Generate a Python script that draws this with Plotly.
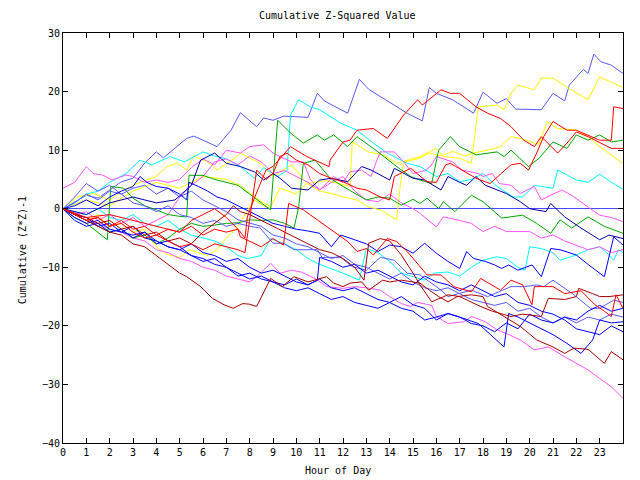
import plotly.graph_objects as go

# ---------------- data (hour, cumulative value) ----------------
mb_top_h = [0,0.5,1,1.5,2,2.5,3,3.5,4,4.3,5.3,5.6,6,6.6,7.2,7.6,8.3,8.6,9,9.45,10.5,10.9,11.2,12.2,12.7,13.1,14.75,15.4,15.7,16,16.7,17.6,18,18.6,19,19.4,20.5,21,21.5,21.7,22.3,22.5,22.75,23.05,23.5,24]
mb_top_v = [0,1.2,2.3,1.8,3.2,4.6,5.2,7.8,9.7,8.7,12,12.4,11.7,10.6,13.4,16.4,14,15.5,15.1,15.8,15.6,19.7,18.4,16.3,22.1,20.4,16.3,15,20.7,19.7,18.6,16.3,19.9,18,18.8,17,16.9,19.7,18.4,21.1,23.8,23.1,26.4,25.1,24.5,23.1]

y_top_h = [0,0.6,1.3,2,2.6,3.3,4,4.45,4.9,5.3,5.6,6.2,6.6,7.45,7.6,8.45,9,9.8,10.45,11.3,12.3,12.4,13.1,13.7,14.3,15.3,16,16.3,17,17.5,17.8,18.6,18.9,19.2,19.5,20.2,20.5,21,21.7,22.5,23,24]
y_top_v = [0,2,2.6,1.5,3.2,4.5,5.5,7.2,7.8,6.6,9,8,6.6,8.9,9.5,7.75,5.5,7.5,4.3,4.8,3.8,11.4,9.7,9.2,7.75,8.9,10.3,8.9,8.6,7.75,17.4,17.7,16.9,19.7,21.1,20.3,22.3,22.3,20.5,18.6,22.5,20.7]

y_mid_h = [0,1,2,3,4,5,6,7,7.6,8.2,8.9,9.3,10,10.45,11,11.5,12,12.6,13.1,13.6,14.1,14.3,14.45,14.6,15.2,15.7,16.2,16.7,17.2,17.6,18.2,18.75,19.2,19.6,20.2,20.4,20.75,21.2,22,22.5,23,24]
y_mid_v = [0,1.5,0.5,3,4.5,3.5,5.5,5,4,2,0.3,3.5,2.5,4.3,3,2.6,2,1.5,0.3,-0.2,-1.4,-1.9,3.8,8,8.5,9.5,9,9.8,9,9.5,10,10.6,12.3,12,11.2,11,14.9,13.7,13.4,12.3,10.6,7.75]

y_low_h = [0,0.5,1,1.5,2,2.5,3,3.5,4,4.5,5,5.4,5.8,6.2,6.6,7,7.4,7.8,8.2,8.6,8.9]
y_low_v = [0,-1,-2,-1,-3,-2.5,-4,-3.5,-6.5,-7.9,-8.3,-7,-7.5,-8,-7,-5,-3.5,-1,1.5,0.5,0]

r_high_h = [0,1,2,3,4,5,5.5,6,6.5,7,7.5,7.8,7.9,8.2,8.7,9,9.75,10.45,11.4,11.45,12,12.3,12.6,13.3,13.9,14.6,15.2,15.4,16.2,16.6,17,17.7,18.2,18.75,19.2,19.75,20.2,20.5,21.2,21.6,22,22.5,23.5,24]
r_high_v = [0,-1.5,-1,-2,-3,-4,-2,-1,0,-1.5,-3.5,-5,-1.4,1.8,6.6,7.2,10.6,8.9,7.2,8.3,11.4,11.7,13.4,13.7,12,16,18.6,17.7,20.3,19.7,19.7,17.4,16.3,15.4,14,11.7,10.6,12.3,9.5,11.2,13.1,12.3,10.3,10.3]

r_jump_h = [0,0.5,1,1.5,2,2.5,3,3.5,4,4.5,5,5.5,6,6.5,7,7.5,7.8,8.1,8.3,8.7,9,9.3,9.6,10,10.5,11,11.5,12,12.6,13,13.6,14,14.2,14.9,15.3,15.6,16,16.4,16.6,17.1,17.7,18.3,19.2,19.6,19.95,20.3,20.6,21,21.6,22,22.5,23,23.5,23.6,24]
r_jump_v = [0,-1,-2,-1.5,-3,-2.5,-4,-5,-4.5,-5.5,-6.5,-6,-7,-6,-6.5,-7,-7.5,1.5,6.6,5,6,8.9,9.5,8.3,7.5,6,5.2,4.6,3.5,3.2,2,1.5,5.5,6.9,5.5,4.6,4.5,7.5,7.75,6.6,5.2,4.3,7.5,7.75,6.6,9.5,12.3,14.9,13.4,13.4,12.5,11.7,11.7,17.4,17.1]

g_high_h = [0,0.5,1,1.5,1.9,2.05,2.6,3,3.5,4,4.5,5,5.3,5.4,6,6.5,7,7.5,8,8.5,8.9,9.2,9.75,10.3,10.9,11.2,11.6,12.2,12.6,13.3,13.75,14.4,14.9,15.3,15.8,16.1,16.3,16.6,17,17.7,18.6,18.9,19.2,19.95,20.4,21,21.6,22,22.5,23,23.5,24]
g_high_v = [0,-1.5,-2.5,-4,-5.3,3.8,3.5,1.8,0.5,-0.2,-1,-1.3,-1.4,5.7,5.7,5,4.5,4,2.5,1,-0.2,15.1,12.9,11.2,12.6,11.7,12.6,10.6,12.3,10.3,8.9,6.9,5.5,4.9,4.3,10,10.9,12.3,10.6,9.2,9.7,8.9,10,7.2,8.6,11.4,10.3,12.6,11.7,12.6,11.4,11.7]

g_mid_h = [0,0.5,1,1.5,2,2.5,3,3.5,4,4.5,5,5.5,6,6.5,7,7.5,8,8.5,9,9.5,9.9,10.1,10.3,10.8,11.45,12,12.5,13,13.5,14,14.5,15,15.3,15.6,16.1,16.3,16.8,17.5,18,18.8,19.7,20.3,20.9,21.3,21.8,22.5,23.2,24]
g_mid_v = [0,-1,-2,-3,-4,-3.5,-5,-4.5,-6,-5,-3.5,-2.5,-3,-2.8,-2.5,-2.4,-1.9,-2,-1.9,-2.5,-3.3,0.3,7.75,8.3,5.2,3.8,2.6,1.5,2,1.8,0.6,1.6,0.9,1.8,0,1.2,-0.5,2.3,1.2,-1.6,-1.1,-2.5,-4.2,-1.9,-3.3,-1.4,-3,-4.2]

c_high_h = [0,0.5,1,1.5,2,2.7,3.3,3.8,4.6,5.2,6,6.5,7,7.6,8.2,8.6,9.2,9.6,9.75,10.1,10.6,11,11.9,12.6,13.3,13.9,14.75,15.3,16,16.5,17,17.5,18,18.6,19.3,19.7,20.2,21,21.2,22,22.5,23,23.5,24]
c_high_v = [0,1,2.5,3,4.5,6,8.3,7.5,8.9,8,9.7,9,8.5,7.2,5.2,7,5.5,6.5,16,18.6,17.4,16.9,14.6,13.4,11.2,9.5,7.75,7.2,5.5,6,4.6,5,6,3.8,2,2,4,3.5,6.6,4.9,4.5,5.9,4.5,3.3]

c_low_h = [0,0.5,1,1.5,2,2.5,3,3.5,4,4.5,5,5.5,6,6.5,7,7.5,7.9,8.5,8.9,9.5,10,10.5,11,11.7,12,12.7,13,13.5,14,14.5,15.5,15.9,16.5,17,17.5,18,18.6,19,19.5,19.8,20,20.5,21,21.3,22,22.5,23,23.3,23.6,23.8,24]
c_low_v = [0,-0.5,-1,0,-1.5,-2,-1,-2.5,-3,-2,-3.5,-4.5,-5,-5.5,-6.5,-8,-8.5,-8,-5.1,-6,-7,-8.5,-9.5,-10.5,-11,-12.2,-6.8,-7.5,-9,-11,-12.2,-11,-10.8,-11.5,-10,-8.8,-8.2,-8.5,-10,-10.5,-6.5,-6.8,-7.5,-8.8,-7.9,-7,-6.5,-7.5,-8.8,-7,-7.5]

m_a_h = [0,0.5,1,1.3,1.7,2.1,2.7,3,3.5,4,4.5,5,5.5,6,6.5,7,7.6,8,8.6,9,9.3,9.8,10.3,10.6,11,11.6,12,12.3,12.8,13.2,13.4,13.6,14.2,14.6,15,15.5,15.75,16,16.7,17.1,17.8,18,18.4,18.7,19.2,19.6,20.2,20.5,21,21.4,21.9,22.5,23,23.5,24]
m_a_v = [3.5,4.5,7.2,6,5.75,4.9,5.75,5.5,4.5,4.9,4.5,5,7,8.5,7.5,10,9.5,10.6,10.9,9.5,8.9,8,8,5,3.2,5.5,4.5,6.3,6.6,5.5,7.75,9.7,9.7,8,6,6.5,7.2,8.9,8,6.6,6,5.5,6,4.3,4,2.6,3.8,1.5,2.5,3.2,2,0.3,-1.1,-1.5,-2.2]

m_b_h = [0,0.5,1,1.5,2,2.5,3,3.5,4,4.5,5,5.5,6,6.5,7,7.5,8,8.5,9,9.5,10,10.5,11,11.5,12,12.5,13,13.5,14,14.5,15,15.3,16,16.3,17,17.5,18,18.5,19,20,20.5,21,21.5,22.5,23,23.5,24]
m_b_v = [0,-1,-0.5,-2,-1,-2.5,-1.5,-3,-2,-1,2,4,5.5,8,8.5,7.5,9,8,6,6.5,5.5,4.5,3.2,4.5,5.5,3,1.5,1.2,2.5,1,0,-0.8,-3.1,-1.4,-2,-2.5,-3.9,-3,-3.9,-3.9,-5,-4.5,-5.5,-7,-6.5,-7.5,-7]

m_low_h = [0,0.5,1,1.5,2,2.5,3,3.5,4,4.5,5,5.5,6,6.5,7,7.5,8,8.3,8.7,8.9,9.3,9.8,10.2,10.8,11.3,12,12.5,13,13.6,14,14.5,14.9,15.2,15.8,16,16.5,17.2,17.5,18.1,18.6,19,19.6,20.2,20.8,21.6,22.5,23,23.5,24]
m_low_v = [0,-0.8,-2,-2.5,-3.5,-4,-5,-5.5,-7,-7.5,-8.5,-9,-10,-10.5,-11.5,-12,-12.5,-11.6,-10,-9.3,-11,-10.5,-10.8,-11.9,-13.3,-13.6,-13.3,-13.5,-13.9,-15,-16.2,-16.7,-16,-16.5,-18.4,-19.6,-19.3,-18.4,-19.3,-20.7,-21.3,-22.4,-24.1,-23.6,-25.5,-27.5,-29,-30.4,-32.4]

db_h = [0,1,2,3,4,4.8,5.5,5.9,6.5,7,7.6,8.2,8.6,9,9.3,9.8,10.5,11,11.5,12.2,12.8,13.2,14,14.2,15,15.5,16.2,16.5,17,17.3,17.7,18.1,19,19.6,20,20.7,20.9,21.5,22.2,23,23.4,24]
db_v = [0,-1,1,2,1,1.5,4,8.3,9.5,7.75,7.2,6.3,4.9,6,5.2,3.5,3.2,4.9,5.2,4.6,7.2,6.6,4.9,6.9,5.2,4.9,3.2,5.5,4.5,4,5.5,4,2.6,1.2,0,-0.5,0.9,-1.4,-3.3,-5.3,-4.5,-5.1]

b1_h = [0,0.5,1,1.5,2,2.5,3,3.3,3.6,4,4.5,5,5.3,5.4,5.8,6.2,6.6,7,7.5,8,8.5,9,9.5,10,10.5,11,11.5,11.9,12.5,13,13.5,14,14.5,15,15.5,16,16.5,17,17.3,17.6,18.1,18.5,18.8,19.1,19.5,20.1,20.5,20.9,21.3,22,22.5,23.2,23.6,24]
b1_v = [0,0.5,1.5,0.5,2,3,3.8,5.5,4.5,3.8,3.5,2.5,1.5,4.5,3.8,3,2,1.5,0.5,-0.5,-1.5,-2.5,-3,-3.5,-3.8,-4.2,-6.5,-4.5,-5.3,-6,-7.3,-6.2,-6.5,-7.6,-5.9,-7.6,-9,-10.2,-7.3,-8.5,-9,-9.6,-10.2,-9.6,-10.5,-9.6,-11.6,-6.8,-7,-7.9,-9.5,-11.6,-4.8,-6.2]

b2_h = [0,0.5,1,1.5,2,2.5,3,3.5,4,4.5,5,5.5,6,6.5,7,7.5,8,8.5,9,9.5,10,10.5,11,11.5,12,12.5,13,13.5,14,14.5,15,15.5,16,16.5,17,17.5,18,18.5,19,19.5,20,20.5,21,21.5,22,22.5,23,23.5,24]
b2_v = [0,-1.5,-2.5,-2,-3.5,-4,-3,-5,-5.5,-6.5,-7,-6,-7.5,-8,-9,-8.5,-10,-11,-10.5,-11.5,-12.5,-13,-12,-13.5,-14,-13.5,-14.5,-15.5,-16,-15,-16.4,-17,-19,-17.9,-18.5,-19.6,-20,-21,-19.5,-20.5,-18,-19,-19.5,-18.5,-19,-17.5,-16.5,-17.5,-17]

b3_h = [0,0.5,1,1.5,2,2.5,3,3.5,4,4.5,5,5.5,6,6.5,7,7.5,8,8.5,9,9.5,10,10.5,11,11.5,12,12.5,13,13.5,14,14.5,15,15.5,16,16.5,17,17.8,18.9,19.1,19.5,20,20.5,21,21.6,22.2,22.7,23,23.5,24]
b3_v = [0,-2,-3,-2.5,-4,-3.5,-5,-4,-6,-5.5,-6.5,-8,-9,-8.5,-10,-11,-12,-11.5,-12.5,-13.5,-14,-13.5,-14.5,-15.5,-15,-16,-16.5,-17,-16,-17,-17.5,-19,-18.5,-17.9,-18.5,-19.6,-23.6,-17.9,-18.5,-19.5,-20.5,-21.5,-23,-24.7,-22.4,-19,-19.5,-19.3]

b5_h = [0,0.5,1,1.5,2,2.5,3,3.5,4,4.5,5,5.5,6,6.5,7,7.5,8,8.5,9,9.5,10,10.5,10.9,11,11.5,12,12.5,13,13.5,14,14.5,15,15.5,16,16.5,17,17.5,18,18.5,19,19.5,20,20.5,21,21.5,22,22.5,23,23.5,24]
b5_v = [0,-1,-1.5,-3,-2.5,-4,-4.5,-4,-5.5,-6.5,-7,-8,-8.5,-9.5,-10,-11.5,-11,-12,-12.5,-13,-12,-13,-12.2,-8.3,-9,-10,-9.5,-11,-10.5,-11.5,-12.5,-13,-11.5,-12.5,-13,-14,-13,-14,-15,-14.5,-16,-16.5,-17.5,-18,-19,-20.5,-21,-21.5,-20,-21]

mb_low_h = [0,0.5,1,1.5,2,2.5,3,3.5,4,4.5,5,5.5,6,6.5,7,7.5,8,8.45,9,9.45,9.9,10.5,10.9,11.1,11.9,12.4,13,13.6,14.2,14.75,15.3,16.2,16.5,17.5,18.2,19.2,19.8,20.3,20.6,21,21.9,22.6,23,23.6,24]
mb_low_v = [0,1,2.5,1.5,3,2.5,1,0.5,-0.5,0.5,-1,-1.5,-2.5,-2,-3,-2.5,-3,-3.3,-5.9,-5.9,-7,-7,-7,-8.3,-8.3,-9.9,-10.5,-8.3,-8.8,-11,-11.3,-13.9,-15,-13.9,-15,-13.3,-13.3,-13,-13.3,-12.2,-14.7,-17,-17,-15.6,-16]

mb_mid_h = [0,0.5,1,1.5,2,2.5,3,3.5,4,4.5,5,5.5,6,6.5,7,7.5,8,8.5,9,9.5,10,10.5,11,11.5,12,12.5,13,13.5,14,14.5,15,15.5,16,16.5,17,17.5,18,18.5,19,19.5,20,20.5,21,21.5,22,22.5,23,23.5,24]
mb_mid_v = [0,2,4.3,3,4,2.5,3.5,4,2.5,3.5,2,3,1.5,0.5,-0.5,-1.9,-2.5,-3,-4.5,-5,-6,-6.5,-7.5,-8.5,-8,-9.5,-10,-11,-12,-11,-12.5,-13.5,-14,-13.5,-14.5,-15.5,-16,-16.5,-16,-17.5,-17,-18.5,-19.5,-18.5,-19.5,-18.5,-19,-18,-18.5]

r_mid_h = [0,0.5,1,1.5,2,2.5,3,3.5,4,4.5,5,5.5,6,6.5,7,7.5,7.6,8.5,9,9.45,9.67,10.3,10.9,11.75,12.2,12.6,13,13.3,13.9,14.3,14.75,15.6,16.2,16.75,17.5,17.9,18.75,19.2,19.7,20.1,20.2,21,21.5,22.2,22.8,23.2,23.5,23.7,24]
r_mid_v = [0,-1,-2,-1.5,-3,-2,-3.5,-3,-4.5,-3.5,-4,-3,-4.5,-3.5,-4,-3.5,-4.8,-6.5,-5.1,-6.2,0.9,-0.2,-1.9,-4.2,-5.6,-7.3,-6.8,-7.9,-5.1,-5.6,-7.3,-11.3,-11.3,-13.3,-14.2,-11.9,-13.9,-12.2,-13,-16.4,-13.3,-13.3,-14.5,-14,-16.4,-17.5,-18.4,-14.7,-17]

dr_low_h = [0,0.5,1,1.5,2,2.5,3,3.5,4,4.5,5,5.3,5.9,6.4,6.9,7.3,7.7,8,8.3,8.9,9.4,9.9,10.5,11.3,11.6,12,12.3,12.8,13.1,13.7,14,14.5,15,15.3,15.7,16.1,16.5,16.9,17.5,18,18.2,18.75,19.6,20.3,21,21.5,21.9,22.5,23.2,23.5,24]
dr_low_v = [0,-1,-2,-3,-4,-4.5,-6,-6.5,-8,-9.6,-11,-11.6,-13.3,-15.3,-16.4,-17,-16.2,-16.3,-16.7,-11.9,-13.3,-11.6,-12.5,-11.6,-12.7,-13.3,-12.7,-12.5,-13.9,-12.2,-12.5,-12.2,-12.5,-12.7,-13.9,-15,-15.9,-15,-14.7,-15,-16.7,-18,-20.1,-22.4,-23.6,-24.7,-23.8,-24,-26.4,-24.4,-25.8]

dr_mid_h = [0,0.5,1,1.5,2,2.5,3,3.5,4,4.5,5,5.5,6,6.5,7,7.3,7.6,8,8.5,9,9.5,10,10.5,11,11.5,12,12.5,12.9,13.1,13.6,14,14.5,15,15.3,15.8,16.5,17,17.9,18.4,19.2,19.7,20.5,20.8,21.5,22,22.1,22.7,23,23.4,24]
dr_mid_v = [0,-1,-1.5,-2.5,-2,-3.5,-3,-4.5,-4,-5.5,-5,-6,-4,-2.5,-1,0.5,-0.5,-1,-2,-3,-4,-5,-6,-7,-7.5,-8.5,-10,-12.2,-5.9,-5.1,-5.5,-7.9,-11,-13,-15.9,-14.7,-15,-16.7,-17.5,-18.4,-18,-18.4,-15.3,-15.5,-15,-13.6,-14.5,-15,-15,-14.7]

RED, DRED, GREEN = "#ff0000", "#a80000", "#00a800"
BLUE, MBLUE, DBLUE = "#0000ff", "#5a5aff", "#0000a8"
YELLOW, CYAN, MAGENTA = "#ffff00", "#00ffff", "#ff55ff"

series = [
    (mb_top_h, mb_top_v, MBLUE), (y_top_h, y_top_v, YELLOW), (y_mid_h, y_mid_v, YELLOW),
    (y_low_h, y_low_v, YELLOW), (c_high_h, c_high_v, CYAN), (c_low_h, c_low_v, CYAN),
    (m_a_h, m_a_v, MAGENTA), (m_b_h, m_b_v, MAGENTA), (m_low_h, m_low_v, MAGENTA),
    (g_high_h, g_high_v, GREEN), (g_mid_h, g_mid_v, GREEN),
    (mb_low_h, mb_low_v, MBLUE), (mb_mid_h, mb_mid_v, MBLUE),
    (b1_h, b1_v, BLUE), (b2_h, b2_v, BLUE), (b3_h, b3_v, BLUE), (b5_h, b5_v, BLUE),
    (db_h, db_v, DBLUE), (dr_low_h, dr_low_v, DRED), (dr_mid_h, dr_mid_v, DRED),
    (r_high_h, r_high_v, RED), (r_jump_h, r_jump_v, RED), (r_mid_h, r_mid_v, RED),
]

hour_ticks = list(range(24))
y_ticks = [-40, -30, -20, -10, 0, 10, 20, 30]

FONT = "DejaVu Sans Mono"

fig = go.Figure()
for h, v, c in series:
    fig.add_trace(go.Scatter(x=h, y=v, mode="lines", line=dict(color=c, width=1),
                             hoverinfo="skip", showlegend=False))

axis_common = dict(showline=True, linecolor="black", linewidth=1, mirror="ticks",
                   ticks="inside", ticklen=5, tickcolor="black", showgrid=False,
                   tickfont=dict(family=FONT, size=10, color="black"))

fig.update_xaxes(range=[0, 24], tickvals=hour_ticks, ticktext=[str(t) for t in hour_ticks],
                 zeroline=False, **axis_common)
fig.update_yaxes(range=[-40, 30], tickvals=y_ticks, zeroline=True, zerolinecolor="#4848ff",
                 zerolinewidth=1, **axis_common)

fig.update_layout(
    width=640, height=480,
    margin=dict(l=63, r=17, t=33, b=37),
    paper_bgcolor="white", plot_bgcolor="white",
    font=dict(family=FONT, size=10, color="black"),
    showlegend=False,
    annotations=[
        dict(text="Cumulative Z-Squared Value", xref="paper", yref="paper", x=0.491, y=1,
             yshift=18, xanchor="center", yanchor="middle", showarrow=False,
             font=dict(family=FONT, size=10)),
        dict(text="Hour of Day", xref="paper", yref="paper", x=0.491, y=0,
             yshift=-27, xanchor="center", yanchor="middle", showarrow=False,
             font=dict(family=FONT, size=10)),
        dict(text="Cumulative (Z*Z)-1", xref="paper", yref="paper", x=0, y=0.47,
             xshift=-41, xanchor="center", yanchor="middle", showarrow=False, textangle=-90,
             font=dict(family=FONT, size=10)),
    ],
)

fig.write_html("out.html")
